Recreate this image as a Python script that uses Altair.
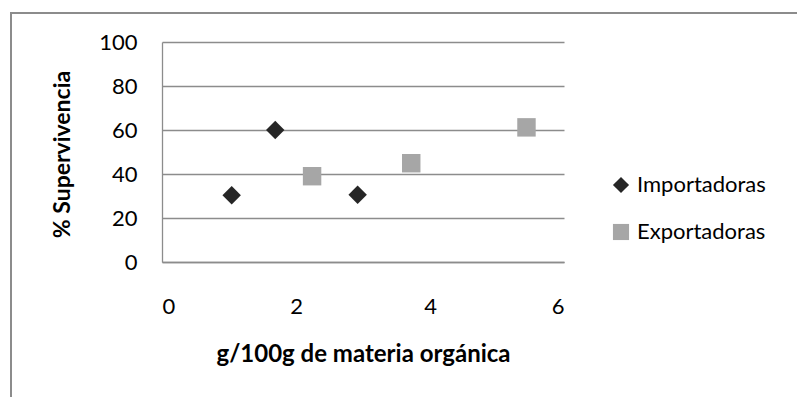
import altair as alt
import pandas as pd

# Survival (%) vs organic matter (g/100g) for two groups of sites
importadoras_x = [1.04, 1.69, 2.92]
importadoras_y = [30.3, 60.0, 30.6]
exportadoras_x = [2.24, 3.72, 5.44]
exportadoras_y = [39.0, 44.9, 61.2]

series_names = ["Importadoras", "Exportadoras"]
series_colors = ["#262626", "#a6a6a6"]
series_shapes = ["diamond", "square"]

x_ticks = [0, 2, 4, 6]
y_ticks = [0, 20, 40, 60, 80, 100]

df = pd.DataFrame({
    "x": importadoras_x + exportadoras_x,
    "y": importadoras_y + exportadoras_y,
    "serie": [series_names[0]] * len(importadoras_x) + [series_names[1]] * len(exportadoras_x),
})

FONT = "Lato"
GRID = "#8c8c8c"

points = alt.Chart(df).mark_point(filled=True, opacity=1, size=340, strokeWidth=0).encode(
    x=alt.X("x:Q",
            scale=alt.Scale(domain=[0, 6], nice=False, zero=True),
            axis=alt.Axis(values=x_ticks, title="g/100g de materia orgánica",
                          grid=False, ticks=False, domainColor=GRID, domainWidth=1.3,
                          labelPadding=34, labelFontSize=22, labelFont=FONT, labelColor="#000",
                          titleFont=FONT, titleFontSize=24, titleFontWeight="bold", titleColor="#000",
                          titleX=201, titleY=99, titleBaseline="alphabetic", titleAlign="center")),
    y=alt.Y("y:Q",
            scale=alt.Scale(domain=[0, 100], nice=False),
            axis=alt.Axis(values=y_ticks, title="% Supervivencia",
                          grid=True, gridColor=GRID, gridWidth=1.3, ticks=False,
                          domainColor=GRID, domainWidth=1.3,
                          labelPadding=25, labelFontSize=22, labelFont=FONT, labelColor="#000",
                          titleFont=FONT, titleFontSize=23, titleFontWeight="bold", titleColor="#000",
                          titleAngle=-90, titleX=-100, titleY=112,
                          titleAlign="center", titleBaseline="middle")),
    color=alt.Color("serie:N",
                    scale=alt.Scale(domain=series_names, range=series_colors),
                    legend=alt.Legend(title=None, orient="none", legendX=448, legendY=132,
                                      labelFont=FONT, labelFontSize=22, labelColor="#000",
                                      symbolSize=260, symbolStrokeWidth=0, labelOffset=5,
                                      rowPadding=25, padding=0)),
    shape=alt.Shape("serie:N",
                    scale=alt.Scale(domain=series_names, range=series_shapes),
                    legend=None),
)

# Outer chart frame (left and top edges)
frame_left = alt.Chart().mark_rule(color="#8c8c8c", strokeWidth=2).encode(
    x=alt.value(-151), y=alt.value(-29), y2=alt.value(400))
frame_top = alt.Chart().mark_rule(color="#8c8c8c", strokeWidth=2).encode(
    x=alt.value(-152), x2=alt.value(700), y=alt.value(-29))

chart = alt.layer(frame_left, frame_top, points).properties(
    width=402, height=220,
    autosize=alt.AutoSizeParams(type="none"),
    padding={"left": 162, "top": 42, "right": 233, "bottom": 135},
    background="white",
).configure_view(stroke=None)

chart.save("out.html", embed_options={"renderer": "svg", "actions": False})
